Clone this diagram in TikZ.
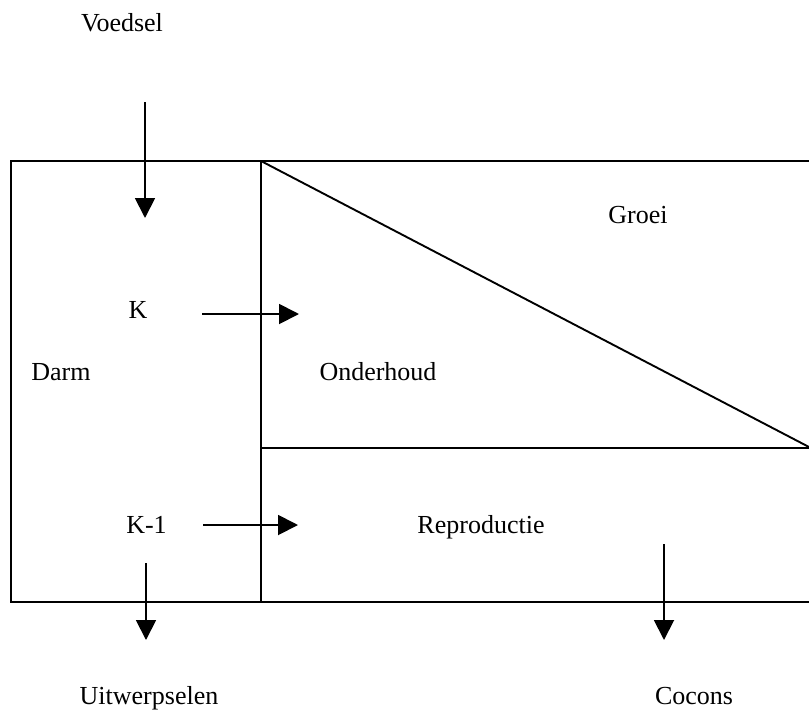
\documentclass[tikz,border=0pt]{standalone}
\usepackage{fontspec}
\setmainfont{Liberation Serif}
\usetikzlibrary{arrows.meta}

\tikzset{
  frame/.style={line width=1.9pt, line cap=rect},
  flow/.style={line width=1.9pt, -{Triangle[length=20pt,width=20pt]}},
  lbl/.style={anchor=base, inner sep=0pt, font=\fontsize{26}{30}\selectfont}
}

\begin{document}
\begin{tikzpicture}[x=1pt, y=-1pt]
  \useasboundingbox (0,0) rectangle (809,710);

  % compartments: gut on the left, body split into growth / maintenance / reproduction
  \draw[frame] (809,161) -- (11,161) -- (11,602) -- (809,602);
  \draw[frame] (261,161) -- (261,602);
  \draw[frame] (261,448) -- (809,448);
  \draw[frame, line cap=butt] (261,161) -- (809,447);

  % labels
  \node[lbl] (voedsel) at (122,31) {Voedsel};
  \node[lbl] (groei) at (638,223) {Groei};
  \node[lbl] (k) at (138,318) {K};
  \node[lbl] (darm) at (61,380) {Darm};
  \node[lbl] (onderhoud) at (378,380) {Onderhoud};
  \node[lbl] (k1) at (146.5,533) {K-1};
  \node[lbl] (repro) at (481,533) {Reproductie};
  \node[lbl] (uitw) at (149,704) {Uitwerpselen};
  \node[lbl] (cocons) at (694,704) {Cocons};

  % arrow end points
  \coordinate (inA) at (145,102);  \coordinate (inB) at (145,218);
  \coordinate (kA) at (202,314);   \coordinate (kB) at (299,314);
  \coordinate (k1A) at (203,525);  \coordinate (k1B) at (298,525);
  \coordinate (outA) at (146,563); \coordinate (outB) at (146,640);
  \coordinate (cocA) at (664,544); \coordinate (cocB) at (664,640);

  \draw[flow] (inA) -- (inB);
  \draw[flow] (kA) -- (kB);
  \draw[flow] (k1A) -- (k1B);
  \draw[flow] (outA) -- (outB);
  \draw[flow] (cocA) -- (cocB);
\end{tikzpicture}
\end{document}
